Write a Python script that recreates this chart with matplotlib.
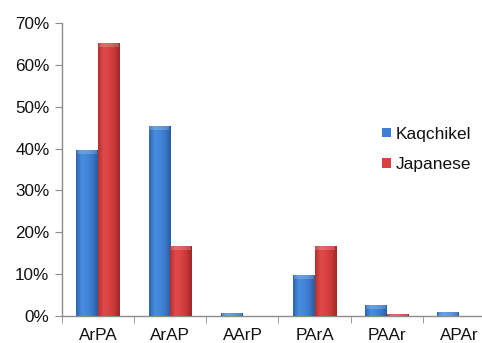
import numpy as np
import matplotlib
matplotlib.use("Agg")
import matplotlib.pyplot as plt
from matplotlib.colors import LinearSegmentedColormap

plt.rcParams['font.family'] = ['Liberation Sans', 'DejaVu Sans']

categories = ["ArPA", "ArAP", "AArP", "PArA", "PAAr", "APAr"]
kaqchikel = [39.6, 45.4, 0.7, 9.8, 2.6, 0.9]
japanese = [65.2, 16.7, 0.0, 16.7, 0.5, 0.0]
series_names = ["Kaqchikel", "Japanese"]
y_ticks = [0, 10, 20, 30, 40, 50, 60, 70]

fig = plt.figure(figsize=(4.82, 3.43), dpi=100)
ax = fig.add_axes([62 / 482, 27 / 343, 433 / 482, 293 / 343])

x = np.arange(len(categories))
w = 0.30

blue_cmap = LinearSegmentedColormap.from_list(
    "b", ["#2d63ad", "#4a8ddf", "#4287da", "#3a78c8", "#2a5c9e"])
red_cmap = LinearSegmentedColormap.from_list(
    "r", ["#b33030", "#e04a4a", "#dc4242", "#c93838", "#9e2828"])

def shaded_bars(xpos, vals, cmap, face, label):
    bars = ax.bar(xpos, vals, width=w, color=face, label=label,
                  linewidth=0, zorder=2)
    grad = np.linspace(0, 1, 64).reshape(1, -1)
    for b in bars:
        h = b.get_height()
        if h <= 0:
            continue
        x0 = b.get_x()
        im = ax.imshow(grad, cmap=cmap, aspect="auto",
                       extent=(x0, x0 + b.get_width(), 0, h),
                       zorder=3, interpolation="bicubic")
        im.set_clip_path(b)
        cap = min(0.9, h)
        ax.bar(x0 + b.get_width() / 2, cap, width=b.get_width() * 0.92,
               bottom=h - cap, color="white", alpha=0.18, linewidth=0,
               zorder=4)
    return bars

shaded_bars(x - w / 2, kaqchikel, blue_cmap, "#3e7fd6", series_names[0])
shaded_bars(x + w / 2, japanese, red_cmap, "#d94040", series_names[1])

ax.set_xlim(-0.5, len(categories) - 0.5)
ax.set_ylim(0, 70)
ax.set_yticks(y_ticks)
ax.set_yticklabels([f"{t}%" for t in y_ticks])
ax.set_xticks(x)
ax.set_xticklabels(categories)
ax.set_xticks(np.arange(len(categories) + 1) - 0.5, minor=True)
ax.tick_params(axis="x", which="major", length=0, pad=8.5, labelsize=12.3,
               labelcolor="#111111")
ax.tick_params(axis="x", which="minor", length=5, color="#8c8c8c",
               direction="out")
ax.tick_params(axis="y", length=5, color="#8c8c8c", labelsize=12.3, pad=4,
               labelcolor="#111111")

for s in ["top", "right"]:
    ax.spines[s].set_visible(False)
for s in ["left", "bottom"]:
    ax.spines[s].set_color("#8c8c8c")
    ax.spines[s].set_linewidth(1.0)
ax.spines["bottom"].set_clip_on(False)

leg = fig.legend(loc="upper left", bbox_to_anchor=(366 / 482, 1 - 111 / 343),
                 frameon=False, fontsize=12.5, handlelength=0.55,
                 handleheight=0.5, handletextpad=0.25, labelspacing=0.9,
                 labelcolor="#111111")

fig.savefig("out.png", dpi=100)
